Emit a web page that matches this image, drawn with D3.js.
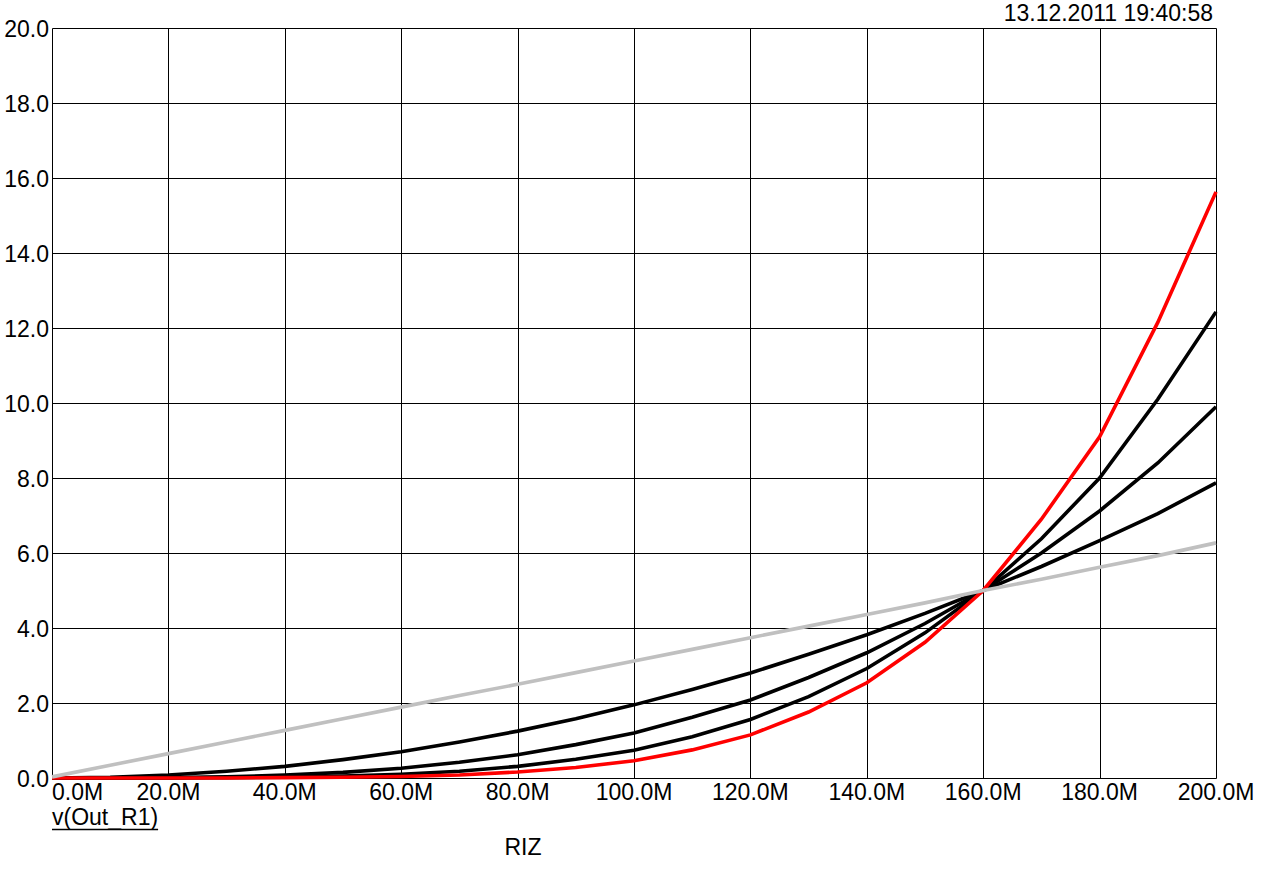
<!DOCTYPE html>
<html>
<head>
<meta charset="utf-8">
<script src="https://cdn.jsdelivr.net/npm/d3@7"></script>
<style>
  html, body { margin: 0; padding: 0; background: #fff; }
  svg { display: block; }
  text { font-family: "Liberation Sans", Arial, sans-serif; font-size: 23px; fill: #000; }
</style>
</head>
<body>
<svg id="chart" width="1276" height="870"></svg>
<script>
// ---- data (x in M, y in volts) ----
const xValues = [0,10,20,30,40,50,60,70,80,90,100,110,120,130,140,150,160,170,180,190,200];
const grayValues  = [0.03,0.34,0.65,0.96,1.27,1.58,1.89,2.2,2.5,2.81,3.12,3.43,3.74,4.05,4.36,4.67,5.0,5.3,5.62,5.93,6.27];
const black1Values = [0,0.02,0.08,0.18,0.31,0.49,0.70,0.96,1.25,1.58,1.95,2.36,2.8,3.3,3.82,4.39,5.0,5.64,6.33,7.05,7.87];
const black2Values = [0,0,0.01,0.03,0.08,0.15,0.26,0.42,0.62,0.89,1.2,1.62,2.08,2.68,3.34,4.12,5.0,6.0,7.12,8.4,9.9];
const black3Values = [0,0,0,0.01,0.02,0.05,0.1,0.18,0.31,0.5,0.74,1.1,1.56,2.17,2.92,3.87,5.0,6.38,8.0,10.1,12.43];
const redValues   = [0,0,0,0,0.01,0.02,0.04,0.08,0.16,0.28,0.46,0.75,1.15,1.76,2.54,3.62,5.0,6.9,9.1,12.15,15.63];
const xTicks = [0,20,40,60,80,100,120,140,160,180,200];
const xTickLabels = ["0.0M","20.0M","40.0M","60.0M","80.0M","100.0M","120.0M","140.0M","160.0M","180.0M","200.0M"];
const yTicks = [0,2,4,6,8,10,12,14,16,18,20];
const yTickLabels = ["0.0","2.0","4.0","6.0","8.0","10.0","12.0","14.0","16.0","18.0","20.0"];
const seriesNames = ["black1","black2","black3","red","gray"];
const dateLabel = "13.12.2011 19:40:58";
const traceLabel = "v(Out_R1)";
const xAxisTitle = "RIZ";

const svg = d3.select("#chart");
const L = 52, R = 1216, T = 28, B = 778;
const x = d3.scaleLinear().domain([0,200]).range([L,R]);
const y = d3.scaleLinear().domain([0,20]).range([B,T]);

// grid
const g = svg.append("g");
g.selectAll("line.v").data(xTicks).enter().append("line")
  .attr("x1", d => Math.round(x(d)) + 0.5).attr("x2", d => Math.round(x(d)) + 0.5)
  .attr("y1", T + 0.5).attr("y2", B + 0.5)
  .attr("stroke", "#000").attr("stroke-width", 1);
g.selectAll("line.h").data(yTicks).enter().append("line")
  .attr("y1", d => Math.round(y(d)) + 0.5).attr("y2", d => Math.round(y(d)) + 0.5)
  .attr("x1", L + 0.5).attr("x2", R + 0.5)
  .attr("stroke", "#000").attr("stroke-width", 1);

// tick labels
svg.selectAll("text.yt").data(yTicks).enter().append("text")
  .attr("x", 49).attr("y", d => y(d) + 8.5)
  .attr("text-anchor", "end")
  .text((d,i) => yTickLabels[i]);
svg.selectAll("text.xt").data(xTicks).enter().append("text")
  .attr("x", d => x(d))
  .attr("y", 799.5)
  .attr("text-anchor", (d,i) => i === 0 ? "start" : "middle")
  .text((d,i) => xTickLabels[i]);

// series
const seriesData = {
  black1: black1Values, black2: black2Values, black3: black3Values,
  red: redValues, gray: grayValues
};
const seriesColor = { black1: "#000", black2: "#000", black3: "#000", red: "#ff0000", gray: "#c0c0c0" };
const line = d3.line().x((d,i) => x(xValues[i])).y(d => y(d));
seriesNames.forEach(name => {
  svg.append("path")
    .datum(seriesData[name])
    .attr("d", line)
    .attr("fill", "none")
    .attr("stroke", seriesColor[name])
    .attr("stroke-width", 3.6)
    .attr("stroke-linejoin", "miter");
});

// texts
svg.append("text").attr("x", 1213).attr("y", 21).attr("text-anchor", "end").text(dateLabel);
const tl = svg.append("text").attr("x", 52).attr("y", 825).text(traceLabel);
const tw = tl.node().getComputedTextLength();
svg.append("line").attr("x1", 52).attr("x2", 52 + tw).attr("y1", 829.5).attr("y2", 829.5)
  .attr("stroke", "#000").attr("stroke-width", 1.5);
svg.append("text").attr("x", 523).attr("y", 855).attr("text-anchor", "middle").text(xAxisTitle);
</script>
</body>
</html>
